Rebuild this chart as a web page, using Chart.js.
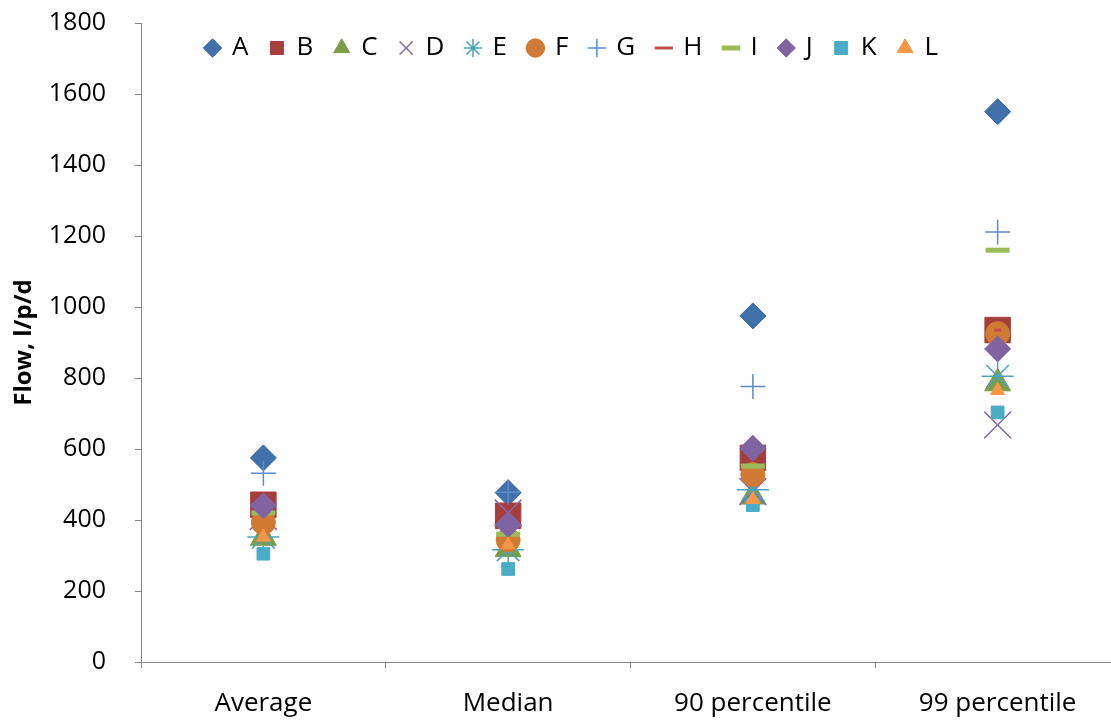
<!DOCTYPE html>
<html>
<head>
<meta charset="utf-8">
<script src="https://cdn.jsdelivr.net/npm/chart.js@4/dist/chart.umd.min.js"></script>
<style>
  html, body { margin: 0; padding: 0; background: #fff; overflow: hidden; }
  #wrap { width: 1120px; height: 720px; }
</style>
</head>
<body>
<div id="wrap"><canvas id="c" width="1120" height="720"></canvas></div>
<script>
const categories = ["Average", "Median", "90 percentile", "99 percentile"];
const seriesNames = ["A", "B", "C", "D", "E", "F", "G", "H", "I", "J", "K", "L"];
const A = [575, 477, 975, 1550];
const B = [443, 412, 575, 935];
const C = [350, 318, 466, 785];
const D = [410, 420, 480, 668];
const E = [352, 316, 485, 805];
const F = [393, 344, 528, 925];
const G = [532, 478, 776, 1211];
const H = [443, 412, 575, 935];
const I = [420, 360, 552, 1160];
const J = [440, 387, 602, 882];
const K = [305, 262, 442, 703];
const L = [352, 330, 458, 765];
const yTicks = [0, 200, 400, 600, 800, 1000, 1200, 1400, 1600, 1800];
const yTitle = "Flow, l/p/d";

const seriesData = [A, B, C, D, E, F, G, H, I, J, K, L];
const styles = [
  { ps: "rectRot",  r: 13,  fill: "#4270AA", line: "#3C66A0", bw: 1 },
  { ps: "rect",     r: 18,  fill: "#A63E3C", line: "#A63E3C", bw: 1 },
  { ps: "triangle", r: 15,  fill: "#7E9C48", line: "#7E9C48", bw: 1 },
  { ps: "crossRot", r: 19,  fill: "#8469A8", line: "#8469A8", bw: 1.5 },
  { ps: "star",     r: 16,  fill: "#4BACC6", line: "#4BA3BE", bw: 1.5 },
  { ps: "circle",   r: 12,  fill: "#D07B33", line: "#D07B33", bw: 1 },
  { ps: "cross",    r: 12.5, fill: "#5B8BCF", line: "#5B8BCF", bw: 1.5 },
  { ps: "line",     r: 3.5, fill: "#C0504D", line: "#C0504D", bw: 3 },
  { ps: "line",     r: 12,  fill: "#9BBB59", line: "#9BBB59", bw: 5 },
  { ps: "rectRot",  r: 13,  fill: "#8064A2", line: "#8064A2", bw: 1 },
  { ps: "rect",     r: 9,   fill: "#4BACC6", line: "#4BACC6", bw: 1 },
  { ps: "triangle", r: 8,   fill: "#F79646", line: "#F79646", bw: 1 }
];

const datasets = seriesNames.map((name, i) => ({
  label: name,
  data: seriesData[i],
  showLine: false,
  pointStyle: styles[i].ps,
  pointRadius: styles[i].r,
  pointBackgroundColor: styles[i].fill,
  pointBorderColor: styles[i].line,
  pointBorderWidth: styles[i].bw,
  backgroundColor: styles[i].fill,
  borderColor: styles[i].line,
  borderWidth: styles[i].bw,
  order: seriesNames.length - i
}));

// Legend overlays the plot area: it takes no layout height, and is placed inside at draw time
const LegendEl = Chart.Legend && Chart.Legend._element;
if (LegendEl) {
  const origFit = LegendEl.prototype.fit;
  LegendEl.prototype.fit = function () {
    origFit.call(this);
    if (this.isHorizontal()) { this.height = 0; }
  };
}
const legendShift = {
  id: "legendShift",
  beforeDraw(chart) {
    const lg = chart.legend;
    if (!lg) return;
    const shift = 43;
    lg.left = chart.chartArea.left + shift;
    lg.right = chart.chartArea.right + shift;
    lg.width = lg.right - lg.left;
    lg.top = chart.chartArea.top - 10;
    lg.bottom = lg.top + 50;
    lg.height = 50;
  }
};

const FONT = "'Open Sans', 'Noto Sans', sans-serif";

new Chart(document.getElementById("c"), {
  type: "line",
  data: { labels: categories, datasets },
  plugins: [legendShift],
  options: {
    responsive: false,
    animation: false,
    devicePixelRatio: 1,
    events: [],
    layout: { autoPadding: false, padding: { top: 23, left: 8, right: 0, bottom: 0 } },
    plugins: {
      tooltip: { enabled: false },
      legend: {
        position: "top",
        align: "start",
        labels: {
          usePointStyle: true,
          boxWidth: 13,
          boxHeight: 13,
          padding: 22,
          color: "#000",
          font: { family: FONT, size: 26 },
          sort: (a, b) => a.datasetIndex - b.datasetIndex
        }
      }
    },
    scales: {
      x: {
        type: "category",
        offset: true,
        grid: { offset: true, drawOnChartArea: false, drawTicks: true, tickLength: 6, color: "#868686" },
        border: { color: "#868686", width: 1 },
        ticks: { color: "#000", font: { family: FONT, size: 26 }, padding: 20, maxRotation: 0 },
        afterFit: (s) => { s.height = 58; s.paddingLeft = 0; s.paddingRight = 0; }
      },
      y: {
        min: 0,
        max: 1800,
        afterBuildTicks: (scale) => { scale.ticks = yTicks.map(v => ({ value: v })); },
        grid: { drawOnChartArea: false, drawTicks: true, tickLength: 6, color: "#868686" },
        border: { color: "#868686", width: 1 },
        ticks: { color: "#000", font: { family: FONT, size: 25 }, padding: 29, callback: (v) => String(v) },
        title: { display: true, text: yTitle, color: "#000", font: { family: FONT, size: 24, weight: "bold" }, padding: { top: 2, bottom: 2 } },
        afterFit: (s) => { s.width = 133; s.paddingTop = 0; s.paddingBottom = 0; }
      }
    }
  }
});
</script>
</body>
</html>
